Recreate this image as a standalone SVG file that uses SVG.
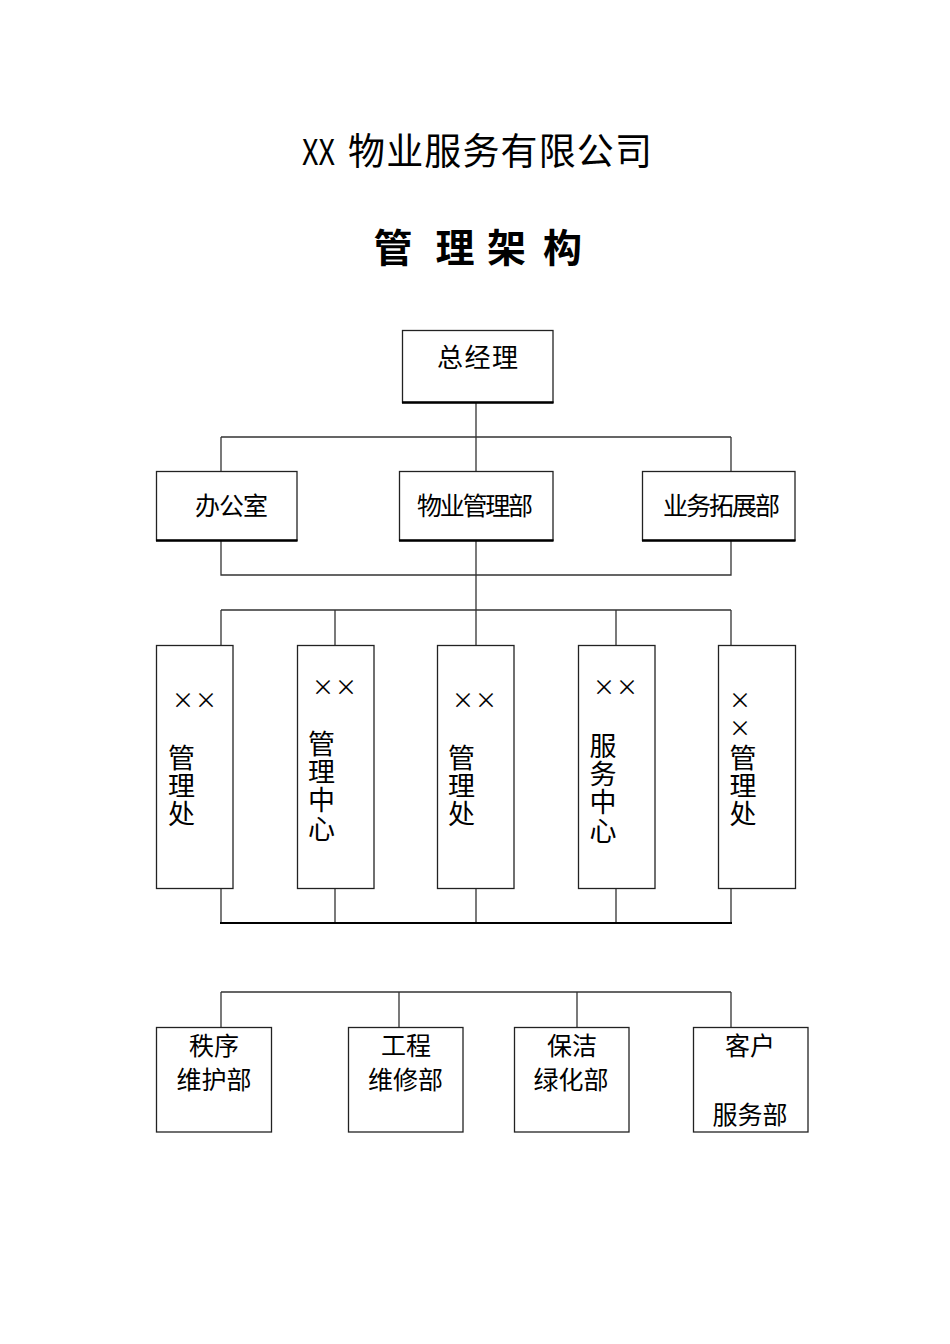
<svg xmlns="http://www.w3.org/2000/svg" width="950" height="1344" viewBox="0 0 950 1344">
<style>
.t{font-family:"Noto Sans CJK SC","Noto Sans CJK JP",sans-serif;fill:#000}
.box{fill:#fff;stroke:#222;stroke-width:1.3}
.bb{stroke:#000;stroke-width:2.6}
.c{stroke:#333;stroke-width:1.3;fill:none}
.m{text-anchor:middle}
.b{font-size:25px}
.v{font-size:27px;writing-mode:vertical-rl;letter-spacing:1.3px}
.x{font-size:22px}
</style>
<rect width="950" height="1344" fill="#fff"/>
<g id="title">
<text class="t" x="302" y="165" font-size="36" textLength="33" lengthAdjust="spacingAndGlyphs">XX</text>
<text class="t" x="348" y="165" font-size="37" textLength="304">物业服务有限公司</text>
</g>
<g id="subtitle" font-weight="bold">
<text class="t m" x="393" y="262" font-size="39">管</text>
<text class="t m" x="455" y="262" font-size="39">理</text>
<text class="t m" x="506.5" y="262" font-size="39">架</text>
<text class="t m" x="562.5" y="262" font-size="39">构</text>
</g>
<g id="connectors">
<path class="c" d="M476 403V645M221 437H731M221 437V471M731 437V471"/>
<path class="c" d="M221 541V575H731V541M221 610H731M221 610V645M335 610V645M616 610V645M731 610V645"/>
<path class="c" d="M221 889V923M335 889V923M476 889V923M616 889V923M731 889V923"/>
<path d="M220 923H732" stroke="#000" stroke-width="2.2"/>
<path class="c" d="M221 992H731M221 992V1027M399 992V1027M577 992V1027M731 992V1027"/>
</g>
<g id="n_gm">
<rect class="box" x="402.5" y="330.5" width="150.5" height="72"/>
<path class="bb" d="M402 402.5H553.5"/>
<text class="t m" x="477.5" y="367" font-size="26" textLength="81">总经理</text>
</g>
<g id="n_office">
<rect class="box" x="156.5" y="471.5" width="140.5" height="69"/>
<path class="bb" d="M156 540.5H297.5"/>
<text class="t m b" x="231.5" y="515" textLength="73">办公室</text>
</g>
<g id="n_pm">
<rect class="box" x="399.5" y="471.5" width="153.5" height="69"/>
<path class="bb" d="M399 540.5H553.5"/>
<text class="t m b" x="475" y="515" textLength="116">物业管理部</text>
</g>
<g id="n_bd">
<rect class="box" x="642.5" y="471.5" width="152.5" height="69"/>
<path class="bb" d="M642 540.5H795.5"/>
<text class="t m b" x="721.5" y="515" textLength="117">业务拓展部</text>
</g>
<g id="n_c1">
<rect class="box" x="156.5" y="645.5" width="76.5" height="243"/>
<text class="t x" x="172" y="708" letter-spacing="1">××</text>
<text class="t v" x="181.5" y="744">管理处</text>
</g>
<g id="n_c2">
<rect class="box" x="297.5" y="645.5" width="76.5" height="243"/>
<text class="t x" x="312" y="695" letter-spacing="1">××</text>
<text class="t v" x="321.5" y="730">管理中心</text>
</g>
<g id="n_c3">
<rect class="box" x="437.5" y="645.5" width="76.5" height="243"/>
<text class="t x" x="452" y="708" letter-spacing="1">××</text>
<text class="t v" x="461.5" y="744">管理处</text>
</g>
<g id="n_c4">
<rect class="box" x="578.5" y="645.5" width="76.5" height="243"/>
<text class="t x" x="593" y="695" letter-spacing="1">××</text>
<text class="t v" x="603" y="732">服务中心</text>
</g>
<g id="n_c5">
<rect class="box" x="718.5" y="645.5" width="77" height="243"/>
<text class="t x" x="740" y="689" style="writing-mode:vertical-rl;letter-spacing:5.5px">××</text>
<text class="t v" x="743" y="744">管理处</text>
</g>
<g id="n_d1">
<rect class="box" x="156.5" y="1027.5" width="115" height="104.5"/>
<text class="t m b"><tspan x="214" y="1055">秩序</tspan><tspan x="214" y="1089">维护部</tspan></text>
</g>
<g id="n_d2">
<rect class="box" x="348.5" y="1027.5" width="114.5" height="104.5"/>
<text class="t m b"><tspan x="406" y="1055">工程</tspan><tspan x="405.5" y="1089">维修部</tspan></text>
</g>
<g id="n_d3">
<rect class="box" x="514.5" y="1027.5" width="114.5" height="104.5"/>
<text class="t m b"><tspan x="572" y="1055">保洁</tspan><tspan x="571" y="1089">绿化部</tspan></text>
</g>
<g id="n_d4">
<rect class="box" x="693.5" y="1027.5" width="114.5" height="104.5"/>
<text class="t m b"><tspan x="750" y="1055">客户</tspan><tspan x="750" y="1124">服务部</tspan></text>
</g>
</svg>
